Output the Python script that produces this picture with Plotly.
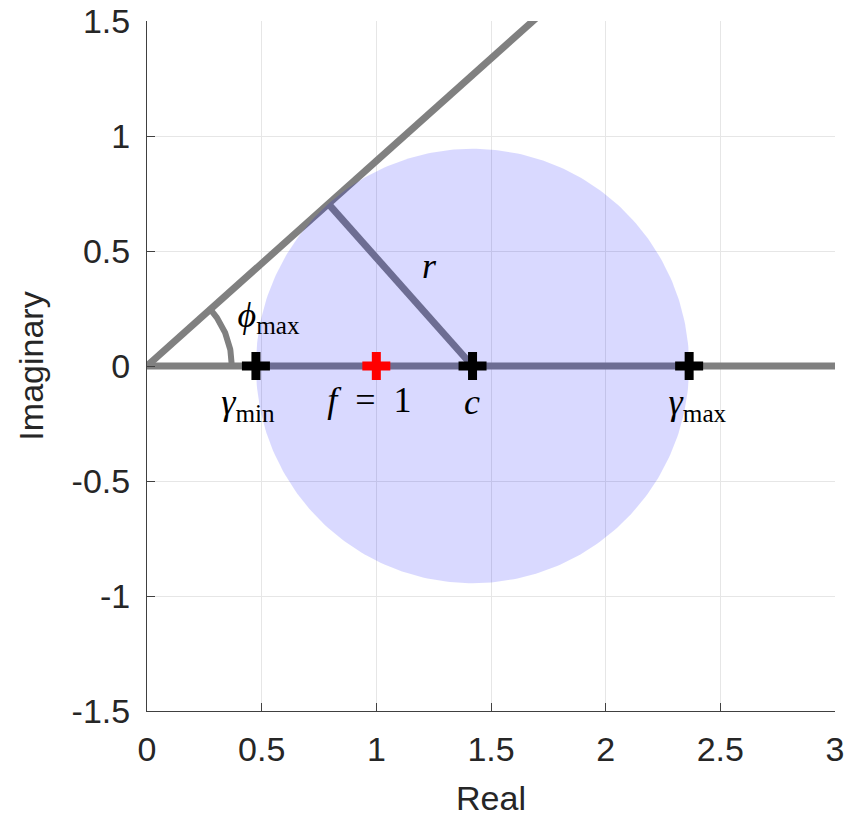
import numpy as np
import plotly.graph_objects as go

# ---- data ----
gamma_min = 0.475
gamma_max = 2.364
f_val = 1.0
c_val = (gamma_min + gamma_max) / 2
r_val = (gamma_max - gamma_min) / 2
arc_radius = 0.37

x_ticks = [0, 0.5, 1, 1.5, 2, 2.5, 3]
x_tick_text = ["0", "0.5", "1", "1.5", "2", "2.5", "3"]
y_ticks = [-1.5, -1, -0.5, 0, 0.5, 1, 1.5]
y_tick_text = ["-1.5", "-1", "-0.5", "0", "0.5", "1", "1.5"]

label_text = ["<i>γ</i><sub>min</sub>", "<i>f</i>\u2002=\u20021", "<i>c</i>", "<i>γ</i><sub>max</sub>",
              "<i>ϕ</i><sub>max</sub>", "<i>r</i>"]
label_x = [0.44, 0.97, 1.417, 2.40, 0.53, 1.23]
label_y = [-0.17, -0.16, -0.17, -0.17, 0.21, 0.42]

# ---- derived geometry ----
phi_max = np.arcsin(r_val / c_val)
t_len = np.sqrt(c_val**2 - r_val**2)
tangent = (t_len * np.cos(phi_max), t_len * np.sin(phi_max))
ray_len = 2.4
theta_arc = np.linspace(0, phi_max, 60)
theta_circ = np.linspace(0, 2 * np.pi, 361)

GRAY = "#808080"
fig = go.Figure()

# real axis line
fig.add_trace(go.Scatter(x=[0, 3.2], y=[0, 0], mode="lines",
                         line=dict(color=GRAY, width=7), hoverinfo="skip"))
# ray at phi_max
fig.add_trace(go.Scatter(x=[0, ray_len * np.cos(phi_max)], y=[0, ray_len * np.sin(phi_max)],
                         mode="lines", line=dict(color=GRAY, width=7), hoverinfo="skip"))
# radius line
fig.add_trace(go.Scatter(x=[tangent[0], c_val], y=[tangent[1], 0], mode="lines",
                         line=dict(color=GRAY, width=7), hoverinfo="skip"))
# angle arc
fig.add_trace(go.Scatter(x=arc_radius * np.cos(theta_arc), y=arc_radius * np.sin(theta_arc),
                         mode="lines", line=dict(color=GRAY, width=6), hoverinfo="skip"))
# disc
fig.add_trace(go.Scatter(x=c_val + r_val * np.cos(theta_circ), y=r_val * np.sin(theta_circ),
                         mode="lines", fill="toself", fillcolor="rgba(0,0,255,0.15)",
                         line=dict(width=0, color="rgba(0,0,0,0)"), hoverinfo="skip"))
# markers
fig.add_trace(go.Scatter(x=[gamma_min, c_val, gamma_max], y=[0, 0, 0], mode="markers",
                         marker=dict(symbol="cross-thin", size=20,
                                     line=dict(color="black", width=9)), hoverinfo="skip"))
fig.add_trace(go.Scatter(x=[f_val], y=[0], mode="markers",
                         marker=dict(symbol="cross-thin", size=20,
                                     line=dict(color="red", width=9)), hoverinfo="skip"))
# labels
fig.add_trace(go.Scatter(x=label_x, y=label_y, mode="text", text=label_text,
                         textposition="middle center",
                         textfont=dict(family="Liberation Serif, serif", size=36, color="black"),
                         hoverinfo="skip", cliponaxis=False))

axis_common = dict(showline=True, linecolor="#404040", linewidth=1, mirror=False,
                   ticks="inside", ticklen=8, tickcolor="#404040", automargin=False,
                   showgrid=True, gridcolor="#e6e6e6", gridwidth=1, zeroline=False,
                   ticklabeloverflow="allow",
                   tickfont=dict(family="Liberation Sans, Arial, sans-serif", size=34, color="#262626"),
                   title_font=dict(family="Liberation Sans, Arial, sans-serif", size=34, color="#262626"))

fig.update_xaxes(range=[0, 3], tickvals=x_ticks, ticktext=x_tick_text, title_text="Real",
                 title_standoff=42, ticklabelstandoff=8, **axis_common)
fig.update_yaxes(range=[-1.5, 1.5], tickvals=y_ticks, ticktext=y_tick_text, title_text="Imaginary",
                 title_standoff=17, ticklabelstandoff=9, **axis_common)

fig.update_layout(width=848, height=817, margin=dict(l=147, r=13, t=21, b=106),
                  plot_bgcolor="white", paper_bgcolor="white", showlegend=False)

fig.write_html("out.html", config={"displayModeBar": False},
               post_script="document.body.style.margin='0';document.body.style.overflow='hidden';")
